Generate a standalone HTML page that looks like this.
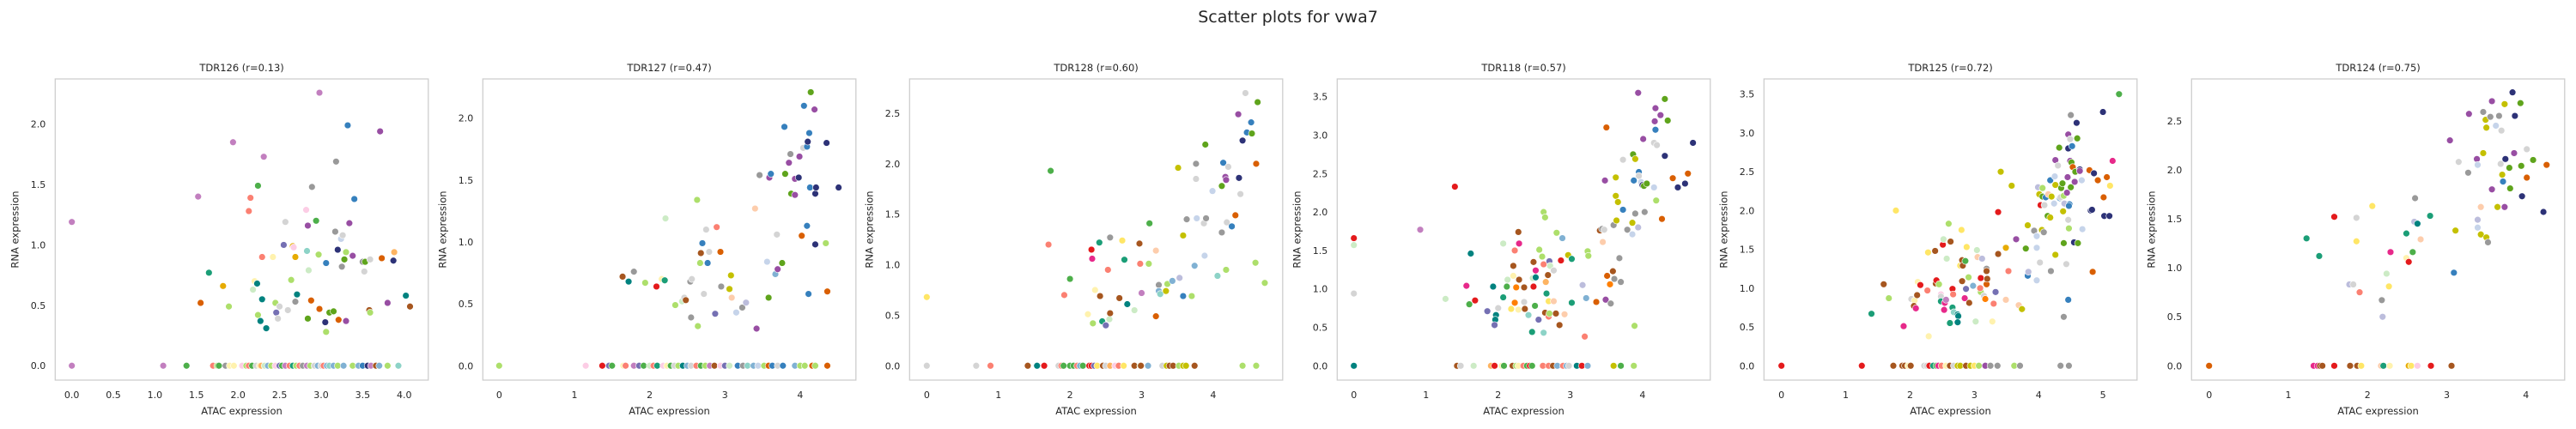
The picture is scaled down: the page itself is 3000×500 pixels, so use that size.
<!DOCTYPE html>
<html><head><meta charset="utf-8"><style>
html,body{margin:0;padding:0;background:#fff;}
svg{display:block;font-family:"DejaVu Sans","Liberation Sans",sans-serif;}
</style></head><body>
<svg id="fig" width="3000" height="500" viewBox="0 0 3000 500" xmlns="http://www.w3.org/2000/svg">
<rect width="3000" height="500" fill="#fff"/>
<text x="1500" y="26" text-anchor="middle" font-size="19" fill="#262626">Scatter plots for vwa7</text>
</svg>
<script>
const titles = ["TDR126 (r=0.13)","TDR127 (r=0.47)","TDR128 (r=0.60)","TDR118 (r=0.57)","TDR125 (r=0.72)","TDR124 (r=0.75)"];
const xDomains = [[-0.2,4.29],[-0.217,4.74],[-0.24,4.97],[-0.231,4.94],[-0.272,5.53],[-0.221,4.488]];
const yDomains = [[-0.119,2.374],[-0.116,2.317],[-0.142,2.84],[-0.186,3.731],[-0.185,3.696],[-0.146,2.927]];
const xTicks = [[0,0.5,1,1.5,2,2.5,3,3.5,4],[0,1,2,3,4],[0,1,2,3,4],[0,1,2,3,4],[0,1,2,3,4,5],[0,1,2,3,4]];
const yTicks = [[0,0.5,1,1.5,2],[0,0.5,1,1.5,2],[0,0.5,1,1.5,2,2.5],[0,0.5,1,1.5,2,2.5,3,3.5],[0,0.5,1,1.5,2,2.5,3,3.5],[0,0.5,1,1.5,2,2.5]];
const xTickDecimals = [1,0,0,0,0,0];

const p1x = [0,1.52,1.94,2.31,2.24,2.15,2.13,1.65,1.82,1.55,1.89,2.29,2.42,2.20,2.23,2.18,2.29,2.45,2.50,2.24,2.27,2.34,2.46,2.48,2.60,2.69,2.71,2.64,2.55,2.66,2.67,2.69,2.57,2.82,2.84,2.89,2.98,2.94,2.83,2.85,2.97,2.88,2.98,2.84,3.05,3.06,3.10,3.15,3.21,3.30,3.06,3.20,3.17,3.24,3.26,3.18,3.32,3.40,3.34,3.30,3.38,3.28,3.25,3.50,3.53,3.59,3.52,3.71,3.73,3.88,3.87,3.80,4.02,4.07,3.58,3.59,
0,1.10,1.38,1.70,1.75,1.77,1.85,1.90,1.95,2.05,2.10,2.13,2.17,2.22,2.26,2.28,2.32,2.36,2.40,2.45,2.50,2.53,2.57,2.62,2.66,2.70,2.74,2.78,2.83,2.87,2.92,2.96,3.00,3.03,3.07,3.10,3.15,3.20,3.27,3.38,3.45,3.50,3.56,3.60,3.66,3.70,3.80,3.93];
const p1y = [1.19,1.40,1.85,1.73,1.49,1.39,1.28,0.77,0.66,0.52,0.49,0.90,0.90,0.70,0.68,0.63,0.55,0.52,0.49,0.42,0.37,0.31,0.44,0.39,0.46,0.53,0.59,0.71,1.00,0.99,0.98,0.90,1.19,1.29,1.16,1.48,2.26,1.20,0.95,0.79,0.92,0.54,0.47,0.39,0.36,0.28,0.44,0.45,0.38,0.37,0.85,0.96,1.11,1.05,1.08,1.69,1.99,1.38,1.18,0.94,0.91,0.88,0.82,0.86,0.86,0.88,0.78,1.94,0.89,0.94,0.87,0.52,0.58,0.49,0.46,0.44,
0,0,0,0,0,0,0,0,0,0,0,0,0,0,0,0,0,0,0,0,0,0,0,0,0,0,0,0,0,0,0,0,0,0,0,0,0,0,0,0,0,0,0,0,0,0,0,0];
const p1c = "MMMMGSStyOLSZZTcTLKLTTVKKkTLVypyKpPkMGCcLOOgNLggOPBNkWKkBBPLPgkkgKKPOANPTnnL" + "MMGSLGkZZpLSGKZAcbLpVGMStLSkMLKbKSbCbLbLbBNMnbLC";

const p2x = [1.64,1.79,1.72,1.94,2.16,2.20,2.09,2.21,2.34,2.43,2.46,2.48,2.55,2.54,2.56,2.63,2.64,2.67,2.68,2.70,2.75,2.77,2.79,2.72,2.87,2.89,2.94,2.95,3.06,3.08,3.09,3.15,3.23,3.28,3.40,3.42,3.46,3.56,3.58,3.59,3.61,3.67,3.70,3.69,3.76,3.79,3.80,3.85,3.87,3.88,3.93,3.93,3.98,3.99,4.02,4.04,4.05,4.09,4.10,4.09,4.11,4.12,4.13,4.14,4.19,4.20,4.21,4.20,4.34,4.35,4.36,4.51,
0,1.15,1.37,1.46,1.50,1.65,1.68,1.79,1.86,1.92,2.00,2.05,2.10,2.18,2.23,2.28,2.33,2.38,2.44,2.50,2.55,2.62,2.68,2.74,2.80,2.86,2.94,3.00,3.06,3.17,3.24,3.30,3.38,3.44,3.52,3.58,3.63,3.70,3.77,3.93,4.00,4.06,4.16,4.20,4.36];
const p2y = [0.72,0.76,0.68,0.67,0.70,0.69,0.64,1.19,0.49,0.52,0.55,0.53,0.39,0.68,0.70,1.34,0.32,0.83,0.91,0.99,1.10,0.83,0.92,0.58,0.42,1.12,0.92,0.64,0.62,0.73,0.55,0.43,0.47,0.51,1.27,0.30,1.54,0.84,0.55,1.52,1.55,0.74,0.78,1.06,0.83,1.93,1.55,1.64,1.71,1.39,1.38,1.51,1.52,1.69,1.05,1.76,2.10,1.77,1.81,1.13,0.58,1.88,1.44,2.21,2.07,1.39,1.44,0.98,0.99,1.80,0.60,1.44,
0,0,0,0,0,0,0,0,0,0,0,0,0,0,0,0,0,0,0,0,0,0,0,0,0,0,0,0,0,0,0,0,0,0,0,0,0,0,0,0,0,0,0,0,0];
const p2c = "nkTLZtRcLcKnkkKLLLnBKBKKVSOkllaWkvaPkWgPBbPKgBgPkgPPNPOKBBNBBBBgPNNNLNON" + "LpRVGZSMVGcStpZGKLTbKSGLMnpVcBkCbWLOBKBbLLOLO";

const p3x = [0,1.73,1.70,2.00,1.92,2.30,2.31,2.41,2.53,2.56,2.35,2.42,2.25,2.32,2.45,2.50,2.55,2.56,2.69,2.73,2.76,2.80,2.90,2.97,2.98,3.10,3.11,3.00,3.20,3.20,3.24,3.24,3.26,3.34,3.36,3.43,3.53,3.51,3.58,3.58,3.70,3.63,3.74,3.76,3.76,3.77,3.87,3.88,3.90,3.89,3.99,4.06,4.12,4.12,4.14,4.17,4.18,4.18,4.19,4.21,4.26,4.31,4.35,4.36,4.38,4.41,4.45,4.47,4.53,4.54,4.59,4.60,4.62,4.72,
0,0.69,0.89,1.41,1.54,1.64,1.84,1.88,1.91,2.00,2.05,2.10,2.14,2.18,2.27,2.30,2.34,2.38,2.46,2.50,2.56,2.63,2.68,2.75,2.90,2.98,2.99,3.09,3.29,3.35,3.39,3.44,3.52,3.58,3.62,3.74,4.41,4.60];
const p3y = [0.68,1.93,1.20,0.86,0.70,1.15,1.06,1.22,0.95,1.27,0.75,0.69,0.51,0.42,0.44,0.40,0.46,0.52,0.67,1.24,1.05,0.61,0.55,1.21,1.01,1.01,1.41,0.72,0.49,1.14,0.80,0.74,0.71,0.74,0.81,0.84,0.87,1.96,1.29,0.69,0.69,1.45,0.99,1.85,2.00,1.46,1.41,1.09,1.46,2.19,1.73,0.89,1.32,1.78,2.01,1.87,1.84,0.95,1.42,1.97,1.38,1.49,2.49,1.86,1.70,2.23,2.70,2.31,2.41,2.30,1.02,2.00,2.61,0.82,
0,0,0,0,0,0,0,0,0,0,0,0,0,0,0,0,0,0,0,0,0,0,0,0,0,0,0,0,0,0,0,0,0,0,0,0,0,0];
const p3c = "YGSGSRmtSkZnZLtVcnnYtTcnSLGMOakbClLbvllBLkbKkWKWkgWCkgBPPLKKBOPNKNKBBgLOgL" + "KKSnTRKSGGGSbGRRVYnKApSYnLnbKlnnLllnLL";

const p4x = [0,0,0,0.92,1.27,1.40,1.56,1.60,1.62,1.68,1.85,1.93,1.97,1.96,1.95,2.00,2.07,2.07,2.12,2.13,2.18,2.21,2.21,2.23,2.23,2.25,2.28,2.29,2.28,2.29,2.36,2.36,2.37,2.42,2.47,2.49,2.49,2.48,2.52,2.52,2.51,2.56,2.57,2.61,2.63,2.65,2.63,2.63,2.66,2.67,2.65,2.69,2.70,2.71,2.71,2.72,2.70,2.77,2.77,2.80,2.81,2.85,2.87,2.89,2.92,2.97,3.02,3.02,3.17,3.22,3.24,3.25,3.20,3.36,3.41,3.44,3.45,3.47,3.48,3.50,3.49,3.51,3.55,3.56,3.59,3.60,3.61,3.63,3.63,3.64,3.66,3.68,3.70,3.73,3.73,3.79,3.86,3.86,3.87,3.88,3.89,3.90,3.90,3.94,3.94,3.95,3.95,3.98,4.00,4.01,4.02,4.06,4.03,4.16,4.20,4.16,4.17,4.18,4.18,4.19,4.25,4.27,4.31,4.31,4.35,4.42,4.49,4.59,4.63,4.70,
0,1.43,1.48,1.66,1.90,1.95,2.05,2.08,2.20,2.25,2.28,2.35,2.40,2.44,2.47,2.62,2.70,2.76,2.82,2.90,2.95,2.98,3.09,3.16,3.24,3.60,3.70,3.88];
const p4y = [1.66,1.57,0.94,1.77,0.87,2.33,1.04,0.80,1.46,0.85,0.71,1.03,0.66,0.60,0.53,0.75,0.89,1.59,1.03,1.12,0.74,1.17,1.30,1.50,0.82,1.02,1.74,1.12,0.73,1.59,0.83,1.02,0.74,0.66,0.44,1.35,1.03,1.14,1.15,1.24,0.78,0.60,1.51,1.42,2.00,1.93,0.43,1.32,1.09,0.94,0.69,1.18,0.64,0.68,1.36,1.30,0.84,0.84,1.24,0.68,1.73,0.53,1.37,1.66,0.67,1.44,1.39,0.82,1.05,0.88,1.49,1.43,0.38,0.83,1.76,1.78,1.61,1.77,2.41,3.10,0.86,1.17,1.06,0.81,1.23,1.83,1.13,2.21,2.45,1.89,2.13,1.40,1.09,2.68,2.03,1.77,1.71,1.86,2.75,2.41,0.52,1.98,2.69,3.55,1.80,2.52,2.47,2.39,2.35,2.95,2.34,2.37,2.00,2.90,2.87,2.32,3.18,3.35,3.07,2.15,3.26,1.91,2.73,3.47,3.19,2.44,2.32,2.37,2.50,2.90,
0,0,0,0,0,0,0,0,0,0,0,0,0,0,0,0,0,0,0,0,0,0,0,0,0,0,0,0];
const p4c = "RcKMcRmGTRVTTTVKtcGcYZnSoonnZmKnnCtnRcTmGVLLLLCSAtnnSLVcYaKnLnRbalttvbLLSOnkaKPOPOoknkkllllkkKBkWlgBLklPvBKWNPggkKKWPPBLPONggONNON" + "TnKcARZGnLZSGRGSSnbSbKTRblGL";

const p5x = [1.78,1.40,1.59,1.67,1.90,2.02,2.07,2.06,2.09,2.11,2.12,2.16,2.27,2.28,2.29,2.39,2.40,2.41,2.45,2.48,2.48,2.48,2.51,2.52,2.54,2.53,2.56,2.57,2.60,2.62,2.63,2.66,2.66,2.67,2.68,2.74,2.75,2.74,2.78,2.80,2.81,2.82,2.81,2.85,2.86,2.88,2.87,2.91,2.92,2.98,3.02,3.04,3.05,3.10,3.10,3.09,3.12,3.15,3.17,3.19,3.19,3.20,3.19,3.28,3.30,3.33,3.37,3.37,3.41,3.49,3.49,3.53,3.58,3.65,3.69,3.75,3.74,3.80,3.83,3.84,3.83,3.93,3.97,3.97,3.97,3.99,4.01,4.03,4.02,4.05,4.06,4.08,4.09,4.06,4.11,4.14,4.15,4.18,4.18,4.19,4.20,4.24,4.26,4.25,4.26,4.26,4.30,4.32,4.33,4.34,4.35,4.37,4.38,4.39,4.39,4.39,4.40,4.43,4.44,4.45,4.46,4.46,4.46,4.47,4.46,4.48,4.47,4.49,4.49,4.50,4.50,4.51,4.52,4.53,4.55,4.56,4.57,4.59,4.60,4.61,4.64,4.64,4.67,4.68,4.79,4.84,4.81,4.83,4.86,4.92,5.00,5.01,5.02,5.06,5.10,5.11,5.15,5.25,
0,1.25,1.74,1.88,1.92,1.97,2.01,2.22,2.26,2.30,2.36,2.41,2.44,2.49,2.56,2.62,2.68,2.74,2.78,2.87,2.94,3.00,3.07,3.17,3.25,3.36,3.62,3.71,4.34,4.47];
const p5y = [2.00,0.67,1.05,0.87,0.51,0.86,0.84,0.77,0.74,0.91,1.08,1.04,0.97,1.46,0.38,1.48,1.06,1.10,1.05,0.92,0.89,0.83,1.56,1.63,0.81,0.72,0.85,1.38,1.83,0.55,1.60,0.75,0.99,0.92,0.69,0.66,0.64,0.56,1.29,1.75,1.36,1.29,1.09,0.87,1.35,1.53,0.99,1.14,0.81,1.03,0.57,1.49,1.40,1.13,0.95,1.00,1.38,0.90,0.86,1.05,1.25,1.12,1.22,0.57,0.80,0.95,1.98,1.44,2.50,0.85,1.52,1.22,2.32,1.63,0.78,0.73,0.73,1.51,1.16,1.21,1.81,1.74,1.52,1.10,1.67,2.30,2.21,2.07,1.33,1.75,2.29,1.72,2.07,2.18,2.17,1.93,2.21,1.91,2.39,1.22,2.18,2.09,1.43,2.44,2.33,2.65,2.58,2.81,2.16,2.17,2.29,2.35,1.99,2.19,0.63,1.58,2.09,1.31,2.23,2.43,2.98,2.80,1.88,1.77,0.85,2.08,2.06,2.92,2.64,3.23,2.30,2.62,2.83,2.56,1.59,2.37,2.50,3.13,2.93,1.58,2.53,2.51,2.39,1.76,2.52,1.21,2.00,2.01,2.48,2.39,3.27,2.17,1.93,2.43,1.93,2.32,2.64,3.50,
0,0,0,0,0,0,0,0,0,0,0,0,0,0,0,0,0,0,0,0,0,0,0,0,0,0,0,0,0,0];
const p5c = "YtnLmKZnmnZRSYZnnRLpKtRcmmMcLtntRSCTTTYYnnnmGYVLnbccaRLSvKoOknnZSVRnlaySlPaWlgBvlkWWWvlRKlLkKgBgalBklWlWlPKgBKgglLkgvKPPPNKLBBBKPkggBONPgNggNPWWOONNNONONON" + "YmGRRnnnZnKKRtGmSZnKllnlYLPkkL";

const p6x = [1.23,1.39,1.58,1.77,1.82,1.86,1.86,1.90,2.06,2.18,2.19,2.24,2.27,2.29,2.49,2.49,2.52,2.57,2.59,2.60,2.63,2.67,2.79,3.04,3.09,3.11,3.15,3.27,3.28,3.38,3.39,3.39,3.39,3.43,3.43,3.46,3.46,3.49,3.50,3.50,3.52,3.55,3.57,3.57,3.62,3.64,3.66,3.68,3.69,3.70,3.71,3.73,3.73,3.74,3.79,3.80,3.83,3.85,3.86,3.93,3.94,3.95,4.01,4.01,4.09,4.22,4.26,
0,1.32,1.37,1.40,1.43,1.58,1.78,1.87,1.92,2.17,2.20,2.28,2.52,2.55,2.63,2.80,3.06];
const p6y = [1.30,1.12,1.52,0.83,0.83,1.51,1.27,0.75,1.63,0.67,0.50,0.94,0.81,1.16,1.10,1.35,1.06,1.16,1.47,1.71,1.45,1.29,1.53,2.30,0.95,1.38,2.08,1.97,2.57,2.11,1.49,2.05,1.41,1.62,1.34,2.17,2.59,2.51,2.43,1.31,1.26,2.54,2.70,1.80,2.45,1.62,2.55,2.06,2.40,1.95,1.88,2.67,1.62,2.11,2.02,1.81,2.79,2.17,2.55,2.68,2.04,1.73,1.92,2.21,2.10,1.57,2.05,
0,0,0,0,0,0,0,0,0,0,0,0,0,0,0,0,0];
const p6c = "ttRvKKYSYkvcYmZtRGvkTatPBlKkPPvWWallklllkkPPWlkKKlBlPNggNPNggNOKgNOO" + "mmnnRnnYatZyYpRnm";

const xsAll = [p1x,p2x,p3x,p4x,p5x,p6x];
const ysAll = [p1y,p2y,p3y,p4y,p5y,p6y];
const csAll = [p1c,p2c,p3c,p4c,p5c,p6c];

const palette = {P:"#984ea3",M:"#c27fbf",G:"#4daf4a",g:"#5fa41c",L:"#addf6b",T:"#00827f",t:"#1b9e77",R:"#e41a1c",S:"#fb8072",O:"#d95f02",o:"#ff7f00",y:"#e6ab02",Y:"#ffe666",Z:"#fff2ae",B:"#3680bd",b:"#80b1d3",N:"#2d3277",V:"#7570b3",v:"#bcbddc",k:"#999999",K:"#d4d4d4",W:"#c6d4ea",m:"#e7298a",C:"#8dd3c7",c:"#ccebc5",p:"#fccde5",a:"#fdcdac",A:"#fdb462",n:"#a6561f",l:"#c4c000"};

const NS = "http://www.w3.org/2000/svg";
const svg = document.getElementById("fig");
const boxL = [64.3,562.3,1059.3,1557.3,2054.3,2552.3];
const boxW = 434.5, boxT = 92, boxB = 443;
const tc = "#262626";

function mk(tag, attrs, parent){
  const e = document.createElementNS(NS, tag);
  for (const k in attrs) e.setAttribute(k, attrs[k]);
  (parent||svg).appendChild(e);
  return e;
}

for (let i = 0; i < 6; i++){
  const L = boxL[i];
  const [x0,x1] = xDomains[i], [y0,y1] = yDomains[i];
  const sx = v => L + (v - x0) / (x1 - x0) * boxW;
  const sy = v => boxB - (v - y0) / (y1 - y0) * (boxB - boxT);
  const g = mk("g", {});
  
  

  const t = mk("text", {x: L + boxW/2, y: 83, "text-anchor":"middle", "font-size":"11.5", fill: tc}, g);
  t.textContent = titles[i];
  
  

  xTicks[i].forEach(v => {
    const tx = mk("text", {x: sx(v), y: 464, "text-anchor":"middle", "font-size":"11", fill: tc}, g);
    tx.textContent = v.toFixed(xTickDecimals[i]);
    
    
  });
  yTicks[i].forEach(v => {
    const ty = mk("text", {x: L - 11, y: sy(v) + 4, "text-anchor":"end", "font-size":"11", fill: tc}, g);
    ty.textContent = v.toFixed(1);
    
    
  });

  const xl = mk("text", {x: L + boxW/2, y: 483, "text-anchor":"middle", "font-size":"11.5", fill: tc}, g);
  xl.textContent = "ATAC expression";
  
  
  const yx = L - 43, yy = (boxT + boxB) / 2;
  const yl = mk("text", {x: yx, y: yy, "text-anchor":"middle", "font-size":"11.5", fill: tc, transform: `rotate(-90 ${yx} ${yy})`}, g);
  yl.textContent = "RNA expression";
  
  

  const pts = mk("g", {}, g);
  
  
  const xs = xsAll[i], ys = ysAll[i], cs = csAll[i];
  for (let j = 0; j < xs.length; j++){
    const c = mk("circle", {cx: sx(xs[j]), cy: sy(ys[j]), r: 3.9, fill: palette[cs[j]] || "#999", stroke:"#fff", "stroke-width":"0.6"}, pts);
    
    
  }

  const box = mk("rect", {x: L, y: boxT, width: boxW, height: boxB - boxT, fill:"none", stroke:"#cccccc", "stroke-width":"1.25"}, g);
  
  
}
</script>
</body></html>
